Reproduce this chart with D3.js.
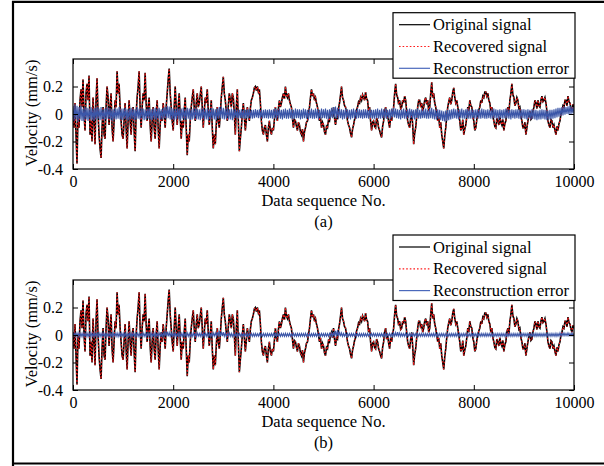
<!DOCTYPE html>
<html>
<head>
<meta charset="utf-8">
<script src="https://cdn.jsdelivr.net/npm/d3@7/dist/d3.min.js"></script>
<style>
  html, body { margin: 0; padding: 0; background: #fff; }
  svg { display: block; }
  svg text { font-family: "Liberation Serif", "Times New Roman", Times, "DejaVu Serif", serif; }
</style>
</head>
<body>
<svg id="chart" width="604" height="466"></svg>
<script>
// Velocity record: one value every 20 samples of the 10000-point sequence
const sampleStep = 20;
const xTicks = [0, 2000, 4000, 6000, 8000, 10000];
const yTicks = [-0.4, -0.2, 0, 0.2];
const yTickLabels = ["-0.4", "-0.2", "0", "0.2"];
const seriesNames = ["Original signal", "Recovered signal", "Reconstruction error"];
const panelLabels = ["(a)", "(b)"];

const original = [
  0.02,-0.1,0.08,-0.15,-0.36,0.0,-0.1,0.1,0.18,0.05,0.25,0.0,-0.12,0.15,0.22,0.1,0.28,-0.15,-0.05,-0.2,0.12,-0.05,-0.22,0.1,0.26,0.0,-0.15,-0.25,-0.32,-0.1,0.05,-0.15,-0.18,0.05,0.2,0.12,-0.08,0.05,0.15,-0.1,-0.2,-0.05,0.1,0.05,0.31,0.15,0.22,0.05,-0.05,-0.15,
  -0.18,-0.05,0.08,-0.1,-0.25,-0.05,0.1,-0.05,-0.15,0.0,0.05,-0.12,-0.27,0.0,0.12,0.2,0.31,0.05,-0.1,0.05,0.15,0.1,0.3,0.08,-0.05,0.05,0.12,-0.08,-0.2,-0.05,0.05,-0.1,-0.18,0.0,0.1,-0.1,-0.25,-0.08,0.02,-0.05,0.08,0.0,-0.1,0.05,0.15,0.25,0.33,0.15,0.05,-0.05,
  -0.12,0.05,0.2,0.05,-0.08,0.05,0.15,-0.02,-0.18,-0.05,-0.1,0.02,0.12,-0.1,-0.3,-0.15,-0.2,-0.05,0.05,0.12,0.18,0.05,-0.05,0.08,0.15,0.05,0.08,0.14,0.2,0.05,-0.1,0.02,0.12,0.08,0.18,0.02,-0.08,0.0,0.1,-0.1,-0.25,-0.15,-0.22,-0.08,0.05,-0.05,-0.1,0.0,0.12,0.2,
  0.27,0.15,0.1,0.02,-0.05,0.06,0.15,0.1,0.05,0.15,0.12,0.0,-0.15,0.05,0.18,-0.05,-0.27,-0.18,-0.1,0.0,0.08,-0.02,-0.12,-0.04,0.05,0.0,-0.05,0.04,0.1,0.12,0.15,0.19,0.2,0.17,0.2,0.16,0.18,0.08,-0.05,-0.12,-0.15,-0.1,-0.08,-0.15,-0.2,-0.1,-0.05,-0.12,-0.15,-0.1,
  -0.12,-0.04,0.05,-0.02,-0.05,0.04,0.1,0.05,0.08,0.12,0.15,0.11,0.2,0.14,0.12,0.15,0.1,0.07,0.05,-0.03,-0.1,-0.04,-0.05,-0.09,-0.12,-0.06,-0.08,-0.13,-0.15,-0.11,-0.2,-0.13,-0.1,-0.06,-0.05,0.0,0.05,0.12,0.18,0.13,0.15,0.1,0.12,0.08,0.05,0.0,-0.05,-0.02,-0.1,-0.06,
  -0.08,-0.13,-0.15,-0.09,-0.1,-0.04,-0.05,0.0,0.02,-0.02,0.05,-0.03,-0.08,-0.02,-0.03,0.04,0.08,0.14,0.2,0.12,0.1,0.06,0.05,0.0,-0.05,-0.08,-0.1,-0.14,-0.17,-0.11,-0.08,-0.04,-0.02,0.03,0.05,0.09,0.08,0.12,0.1,0.14,0.12,0.1,0.16,0.11,0.1,0.02,0.05,-0.05,-0.12,-0.06,
  -0.05,-0.09,-0.1,-0.03,-0.05,-0.1,-0.12,-0.15,-0.17,-0.09,-0.05,0.02,0.05,-0.03,0.0,-0.06,-0.1,-0.02,-0.05,0.0,0.05,0.15,0.22,0.14,0.12,0.07,0.1,0.04,0.05,0.1,0.08,0.13,0.1,0.02,-0.05,-0.08,-0.1,-0.03,0.02,-0.08,-0.22,-0.14,-0.1,-0.02,0.05,0.1,0.1,0.05,0.08,0.02,
  0.05,0.1,0.12,0.07,0.1,0.02,0.05,0.15,0.23,0.12,0.15,0.08,0.05,0.0,-0.05,-0.02,-0.1,-0.06,-0.15,-0.2,-0.25,-0.16,-0.1,-0.02,0.05,0.09,0.12,0.07,0.1,0.16,0.19,0.12,0.08,0.1,0.05,0.0,-0.05,-0.12,-0.1,-0.04,-0.15,-0.11,-0.08,-0.02,0.05,0.02,0.1,0.06,0.05,-0.02,
  -0.05,-0.12,-0.1,-0.04,0.0,0.03,0.05,0.1,0.08,0.13,0.12,0.16,0.16,0.13,0.15,0.1,0.08,0.02,0.05,-0.02,-0.05,-0.09,-0.1,-0.03,-0.05,-0.08,-0.02,-0.06,-0.08,-0.04,-0.12,-0.07,-0.05,0.02,0.05,0.0,0.1,0.15,0.22,0.14,0.12,0.06,0.08,0.12,0.1,0.04,0.05,-0.02,-0.05,-0.1,
  -0.1,-0.06,-0.15,-0.1,-0.05,-0.01,0.02,-0.04,-0.03,0.02,0.05,0.1,0.08,0.04,0.1,0.06,0.05,0.1,0.13,0.09,0.1,0.12,0.08,0.02,-0.05,-0.08,-0.1,-0.04,-0.05,-0.1,-0.08,-0.12,-0.15,-0.09,-0.12,-0.07,-0.05,0.0,0.02,0.06,0.05,0.1,0.1,0.06,0.13,0.09,0.08,0.04,0.02,0.07,0.05
];

// The recovered trace lies on top of the original at this scale
const recovered = original;

const errorA = [
  .06,-.05,.07,-.04,.06,-.06,.05,-.04,.06,-.05,.04,-.05,.05,-.04,.045,-.05,.04,-.035,.05,-.045,.04,-.05,.045,-.04,.05,-.035,.04,-.045,.05,-.04,.035,-.045,.04,-.04,.05,-.035,.045,-.04,.04,-.05,.035,-.04,.045,-.04,.04,-.035,.05,-.04,.04,-.045,
  .04,-.035,.045,-.04,.035,-.045,.04,-.04,.045,-.035,.04,-.045,.035,-.04,.05,-.035,.04,-.04,.045,-.035,.04,-.045,.035,-.04,.04,-.035,.045,-.04,.035,-.045,.04,-.035,.045,-.04,.04,-.035,.045,-.04,.035,-.04,.045,-.03,.05,-.035,.06,-.03,.055,-.04,.045,-.04,
  .04,-.045,.035,-.04,.045,-.035,.04,-.05,.04,-.035,.045,-.04,.035,-.04,.045,-.035,.04,-.045,.035,-.04,.04,-.035,.045,-.04,.04,-.04,.035,-.045,.04,-.035,.045,-.04,.035,-.04,.04,-.045,.035,-.04,.045,-.035,.04,-.04,.035,-.045,.04,-.035,.05,-.03,.055,-.035,
  .045,-.04,.04,-.035,.045,-.04,.035,-.04,.04,-.045,.035,-.03,.035,-.03,.03,-.035,.03,-.03,.035,-.03,.03,-.035,.03,-.03,.035,-.03,.035,-.03,.03,-.035,.03,-.03,.035,-.025,.03,-.03,.035,-.03,.03,-.035,.03,-.03,.035,-.03,.03,-.035,.035,-.03,.03,-.035,
  .035,-.03,.04,-.035,.035,-.03,.04,-.035,.03,-.04,.035,-.03,.04,-.035,.03,-.035,.04,-.03,.035,-.04,.03,-.035,.04,-.03,.035,-.03,.035,-.04,.03,-.035,.04,-.03,.035,-.035,.03,-.04,.035,-.03,.04,-.035,.03,-.035,.04,-.03,.035,-.04,.03,-.035,.04,-.03,
  .035,-.03,.04,-.035,.03,-.04,.035,-.03,.045,-.03,.05,-.025,.055,-.03,.045,-.035,.04,-.03,.035,-.04,.03,-.035,.04,-.03,.035,-.035,.03,-.04,.035,-.03,.04,-.035,.03,-.035,.04,-.03,.035,-.03,.03,-.035,.035,-.03,.035,-.03,.03,-.035,.035,-.03,.03,-.035,
  .03,-.035,.035,-.03,.04,-.035,.03,-.035,.04,-.03,.035,-.03,.04,-.035,.03,-.03,.035,-.035,.04,-.025,.045,-.025,.04,-.03,.035,-.035,.03,-.04,.035,-.03,.04,-.035,.03,-.035,.035,-.03,.04,-.03,.035,-.035,.03,-.04,.035,-.03,.04,-.035,.03,-.035,.035,-.03,
  .035,-.03,.04,-.035,.03,-.035,.04,-.03,.045,-.035,.035,-.04,.03,-.04,.035,-.035,.03,-.045,.025,-.05,.02,-.055,.025,-.05,.03,-.045,.03,-.04,.035,-.035,.04,-.03,.035,-.035,.03,-.04,.035,-.03,.04,-.035,.03,-.035,.035,-.03,.04,-.035,.03,-.035,.035,-.03,
  .03,-.035,.035,-.03,.035,-.035,.03,-.035,.04,-.03,.035,-.035,.03,-.035,.035,-.03,.03,-.035,.035,-.03,.04,-.03,.035,-.035,.03,-.04,.035,-.03,.03,-.035,.035,-.03,.04,-.03,.035,-.035,.03,-.04,.035,-.03,.03,-.035,.035,-.03,.035,-.035,.03,-.035,.035,-.03,
  .035,-.035,.03,-.04,.035,-.03,.03,-.04,.035,-.035,.03,-.04,.03,-.045,.025,-.04,.03,-.04,.035,-.035,.03,-.04,.03,-.045,.025,-.04,.03,-.04,.03,-.035,.035,-.03,.04,-.025,.045,-.02,.045,-.015,.05,-.01,.055,-.005,.05,0,.055,-.005,.06,0,.05,.005,.05
];

const errorB = [
  .02,-.012,.018,-.01,.015,-.012,.015,-.01,.012,-.012,.015,-.01,.012,-.01,.015,-.012,.012,-.01,.015,-.01,.012,-.012,.015,-.008,.012,-.01,.015,-.012,.012,-.01,.015,-.01,.012,-.012,.01,-.01,.015,-.01,.012,-.012,.015,-.008,.012,-.01,.015,-.012,.012,-.01,.015,-.01,
  .012,-.01,.015,-.012,.01,-.01,.015,-.01,.012,-.012,.015,-.008,.012,-.01,.015,-.01,.012,-.012,.01,-.01,.015,-.01,.012,-.012,.015,-.008,.012,-.01,.015,-.012,.012,-.01,.015,-.01,.012,-.01,.015,-.01,.012,-.012,.015,-.008,.02,-.008,.025,-.01,.018,-.01,.015,-.01,
  .012,-.01,.015,-.012,.01,-.01,.015,-.01,.012,-.012,.015,-.008,.012,-.01,.015,-.01,.012,-.012,.01,-.01,.015,-.01,.012,-.012,.015,-.008,.012,-.01,.015,-.012,.012,-.01,.015,-.01,.012,-.01,.015,-.01,.012,-.012,.015,-.008,.015,-.01,.02,-.008,.03,-.01,.025,-.008,
  .02,-.01,.015,-.012,.012,-.01,.015,-.01,.012,-.012,.01,-.008,.012,-.01,.01,-.008,.012,-.01,.01,-.01,.012,-.008,.01,-.008,.012,-.01,.01,-.008,.012,-.01,.01,-.01,.012,-.008,.01,-.008,.012,-.01,.01,-.008,.012,-.01,.01,-.01,.012,-.008,.01,-.008,.012,-.01,
  .012,-.008,.01,-.01,.012,-.008,.01,-.01,.012,-.008,.01,-.01,.012,-.01,.01,-.008,.012,-.01,.01,-.01,.012,-.008,.01,-.01,.012,-.008,.01,-.01,.012,-.008,.01,-.01,.012,-.01,.01,-.008,.012,-.01,.01,-.01,.012,-.008,.01,-.01,.012,-.008,.01,-.01,.012,-.008,
  .01,-.01,.012,-.008,.01,-.01,.012,-.008,.015,-.01,.02,-.008,.03,-.01,.035,-.008,.025,-.01,.015,-.01,.012,-.008,.01,-.01,.012,-.008,.01,-.01,.012,-.008,.01,-.01,.012,-.01,.01,-.008,.012,-.01,.01,-.01,.012,-.008,.01,-.01,.012,-.008,.01,-.01,.012,-.008,
  .012,-.008,.01,-.01,.012,-.008,.01,-.01,.012,-.008,.01,-.01,.012,-.01,.01,-.008,.012,-.01,.01,-.01,.015,-.008,.018,-.01,.02,-.008,.015,-.01,.012,-.008,.01,-.01,.012,-.01,.01,-.008,.012,-.01,.01,-.01,.012,-.008,.01,-.01,.012,-.008,.01,-.01,.012,-.008,
  .01,-.01,.012,-.008,.01,-.01,.012,-.008,.01,-.01,.012,-.01,.01,-.008,.012,-.01,.01,-.01,.012,-.008,.01,-.012,.01,-.01,.012,-.008,.01,-.01,.012,-.008,.01,-.01,.012,-.01,.01,-.008,.012,-.01,.01,-.01,.012,-.008,.01,-.01,.012,-.008,.01,-.01,.012,-.008,
  .012,-.008,.01,-.01,.012,-.008,.01,-.01,.012,-.008,.01,-.01,.012,-.01,.01,-.008,.012,-.01,.01,-.01,.012,-.008,.01,-.01,.012,-.008,.01,-.01,.012,-.008,.01,-.01,.012,-.01,.01,-.008,.012,-.01,.01,-.01,.012,-.008,.01,-.01,.012,-.008,.01,-.01,.012,-.008,
  .012,-.008,.01,-.01,.012,-.008,.01,-.01,.012,-.008,.01,-.01,.012,-.01,.01,-.008,.012,-.01,.01,-.01,.012,-.008,.01,-.01,.012,-.008,.01,-.01,.012,-.008,.01,-.01,.012,-.01,.01,-.008,.015,-.008,.012,-.005,.015,-.005,.012,-.005,.015,-.005,.012,-.005,.015,-.005,.012
];

const panelErrors = [errorA, errorB];

const FONT = '"Liberation Serif", "Times New Roman", Times, "DejaVu Serif", serif';
const svg = d3.select("#chart");
const COLORS = { original: "#000000", recovered: "#ff1a1a", error: "#3b56a8", errorKey: "#4a68bb" };

// outer frame around both panels
svg.append("path")
  .attr("d", "M13,466 L13,1.8 L606,1.8 M13,463.5 L606,463.5")
  .attr("fill", "none").attr("stroke", "#000").attr("stroke-width", 2.2);

const plotLeft = 73, plotRight = 574, plotH = 110;
const panelTops = [59, 280];
const legendTops = [12.7, 235];

const x = d3.scaleLinear().domain([0, 10000]).range([plotLeft, plotRight]);

panelTops.forEach((top, p) => {
  const y = d3.scaleLinear().domain([-0.4, 0.4]).range([top + plotH, top]);
  const g = svg.append("g");

  const clipId = "clip" + p;
  g.append("clipPath").attr("id", clipId)
    .append("rect").attr("x", plotLeft).attr("y", top).attr("width", plotRight - plotLeft).attr("height", plotH);

  const line = d3.line().x((d, i) => x(i * sampleStep)).y(d => y(d));
  const traces = g.append("g").attr("clip-path", `url(#${clipId})`);

  traces.append("path").datum(original).attr("d", line)
    .attr("fill", "none").attr("stroke", COLORS.original).attr("stroke-width", 1.6);
  traces.append("path").datum(recovered).attr("d", line)
    .attr("fill", "none").attr("stroke", COLORS.recovered).attr("stroke-width", 1.1)
    .attr("stroke-dasharray", "1.6,2");
  traces.append("path").datum(panelErrors[p]).attr("d", line)
    .attr("fill", "none").attr("stroke", COLORS.error).attr("stroke-width", 1.1);

  // axes with inward ticks on all four sides
  const fmtY = (d) => yTickLabels[yTicks.indexOf(d)];
  const axB = g.append("g").attr("transform", `translate(0,${top + plotH})`)
    .call(d3.axisBottom(x).tickValues(xTicks).tickSizeInner(-5).tickSizeOuter(0).tickPadding(9).tickFormat(d3.format("d")));
  const axT = g.append("g").attr("transform", `translate(0,${top})`)
    .call(d3.axisTop(x).tickValues(xTicks).tickSizeInner(-5).tickSizeOuter(0).tickFormat(""));
  const axL = g.append("g").attr("transform", `translate(${plotLeft},0)`)
    .call(d3.axisLeft(y).tickValues(yTicks).tickSizeInner(-5).tickSizeOuter(0).tickPadding(10).tickFormat(fmtY));
  const axR = g.append("g").attr("transform", `translate(${plotRight},0)`)
    .call(d3.axisRight(y).tickValues(yTicks).tickSizeInner(-5).tickSizeOuter(0).tickFormat(""));

  [axB, axT, axL, axR].forEach(a => {
    a.attr("font-family", null);
    a.select(".domain").remove();
    a.selectAll("line").attr("stroke", "#000").attr("stroke-width", 1);
    a.selectAll("text").style("font-family", FONT).attr("font-size", 16).attr("fill", "#000");
  });
  axB.selectAll("text").attr("dy", "0.55em");

  g.append("rect").attr("x", plotLeft).attr("y", top).attr("width", plotRight - plotLeft).attr("height", plotH)
    .attr("fill", "none").attr("stroke", "#000").attr("stroke-width", 1.2);

  // axis titles and panel label
  g.append("text").attr("x", (plotLeft + plotRight) / 2).attr("y", top + plotH + 31)
    .attr("text-anchor", "middle").attr("dominant-baseline", "central")
    .style("font-family", FONT).attr("font-size", 16.5).text("Data sequence No.");
  g.append("text").attr("transform", `translate(31,${top + plotH / 2 - 1}) rotate(-90)`)
    .attr("text-anchor", "middle").attr("dominant-baseline", "central")
    .style("font-family", FONT).attr("font-size", 16.5).text("Velocity (mm/s)");
  g.append("text").attr("x", (plotLeft + plotRight) / 2).attr("y", top + plotH + 52)
    .attr("text-anchor", "middle").attr("dominant-baseline", "central")
    .style("font-family", FONT).attr("font-size", 16.5).text(panelLabels[p]);

  // legend
  const lt = legendTops[p];
  const lg = g.append("g");
  lg.append("rect").attr("x", 393).attr("y", lt).attr("width", 182).attr("height", 65.5)
    .attr("fill", "#fff").attr("stroke", "#000").attr("stroke-width", 1.2);
  const styles = [
    { stroke: COLORS.original, dash: null },
    { stroke: COLORS.recovered, dash: "1.6,2" },
    { stroke: COLORS.errorKey, dash: null }
  ];
  seriesNames.forEach((name, k) => {
    const cy = lt + 12 + k * 21.8;
    lg.append("line").attr("x1", 399).attr("x2", 430).attr("y1", cy).attr("y2", cy)
      .attr("stroke", styles[k].stroke).attr("stroke-width", 1.2)
      .attr("stroke-dasharray", styles[k].dash);
    lg.append("text").attr("x", 433).attr("y", cy).attr("dominant-baseline", "central")
      .style("font-family", FONT).attr("font-size", 16.5).text(name);
  });
});
</script>
</body>
</html>
